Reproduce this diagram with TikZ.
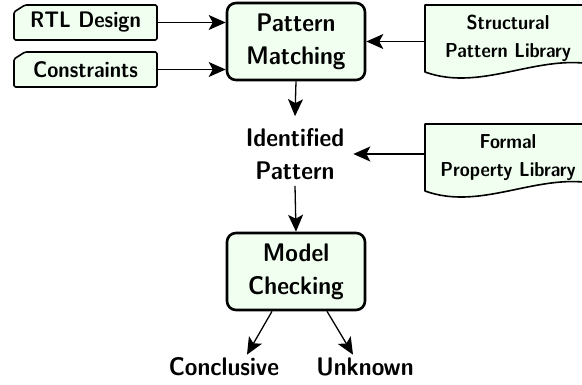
\documentclass[tikz,border=0pt]{standalone}
\usepackage{fontspec}
\newfontfamily\lmbx{lmsans10-bold.otf}[FakeStretch=0.9]
\usetikzlibrary{arrows.meta}
\definecolor{boxfill}{HTML}{F0FFF0}
\newcommand\fbig{\lmbx\fontsize{25.5}{33}\selectfont}
\newcommand\fmid{\lmbx\fontsize{22.5}{26}\selectfont}
\newcommand\fsmall{\lmbx\fontsize{20.2}{28}\selectfont}
\tikzset{
 procbox/.style={draw, line width=2.6pt, rounded corners=9pt, fill=boxfill, minimum width=138pt, minimum height=77pt, align=center, font=\fbig, inner sep=0pt},
 plainlbl/.style={align=center, font=\fbig, inner sep=0pt},
 outlbl/.style={font=\fbig, inner sep=3pt},
 cardshape/.style={draw, line width=1.6pt, fill=boxfill, rounded corners=1.5pt, line join=round},
 docshape/.style={draw, line width=1.6pt, fill=boxfill, line join=round},
 inlbl/.style={minimum width=143pt, minimum height=35pt, inner sep=0pt, font=\fmid},
 doclbl/.style={minimum width=166pt, minimum height=67pt, inner sep=0pt, align=center, font=\fsmall},
 flow/.style={line width=1.3pt, -{Stealth[length=17pt,width=15pt,inset=4pt]}},
}
\begin{document}
\begin{tikzpicture}[x=1pt,y=-1pt]
\useasboundingbox (0,0) rectangle (582,385);
% input cards
\path[cardshape] (14,40) -- (14,12) -- (25,5) -- (157,5) -- (157,40) -- cycle;
\path[cardshape] (14,87) -- (14,59) -- (25,52) -- (157,52) -- (157,87) -- cycle;
% library documents
\path[docshape] (425,72) -- (425,5) -- (591,5) -- (591,64) .. controls (535,55) and (480,92) .. (425,72) -- cycle;
\path[docshape] (425,191) -- (425,124) -- (591,124) -- (591,183) .. controls (535,174) and (480,211) .. (425,191) -- cycle;
% nodes
\node[inlbl] (rtl) at (85.5,22.5) {RTL Design};
\node[inlbl] (con) at (85.5,69.5) {Constraints};
\node[doclbl] (spl) at (508,38.5) {Structural\\Pattern Library};
\node[doclbl] (fpl) at (508,157.5) {Formal\\Property Library};
\node[procbox] (pm) at (296,41.5) {Pattern\\Matching};
\node[plainlbl] (ip) at (295,154) {Identified\\Pattern};
\node[procbox] (mc) at (296,271.5) {Model\\Checking};
\node[outlbl] (conc) at (224,367) {Conclusive};
\node[outlbl] (unk) at (365,367) {Unknown};
% connectors
\draw[flow] (rtl.east) -- (rtl.east -| pm.west);
\draw[flow] (con.east) -- (con.east -| pm.west);
\draw[flow] (spl.west |- pm.east) -- (pm.east);
\draw[flow] (pm.south) -- ([yshift=12pt]ip.north);
\draw[flow] (fpl.west |- ip.east) -- ([xshift=9pt]ip.east);
\draw[flow] ([yshift=-6pt]ip.south) -- (mc.north);
\draw[flow] ([xshift=-24pt]mc.south) -- ([xshift=23pt]conc.north);
\draw[flow] ([xshift=31pt]mc.south) -- ([xshift=-12pt]unk.north);
\end{tikzpicture}
\end{document}
